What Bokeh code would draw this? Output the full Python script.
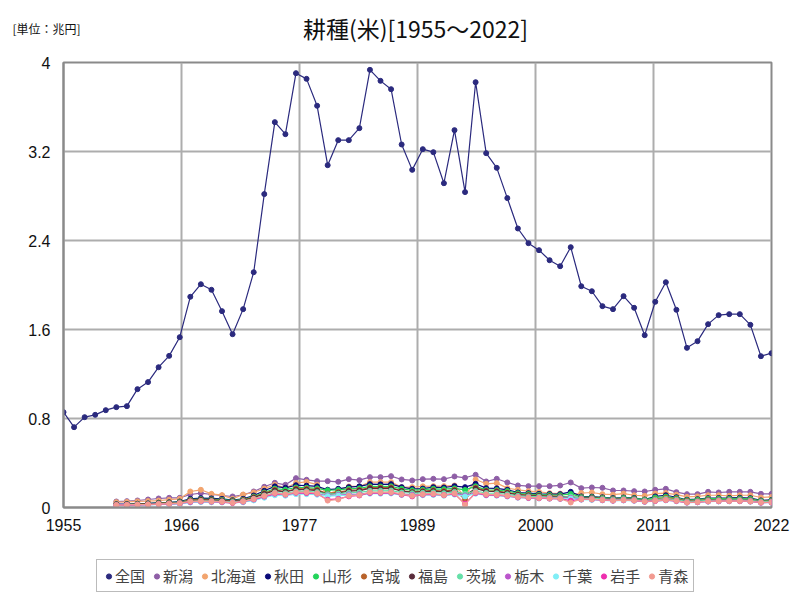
from bokeh.plotting import figure
from bokeh.models import Range1d, FixedTicker, Legend, LegendItem
from bokeh.layouts import column
from bokeh.core.properties import value
from bokeh.embed import file_html
from bokeh.resources import INLINE

title_text = "耕種(米)[1955～2022]"
unit_text = "[単位：兆円]"

years_all = list(range(1955, 2023))
years_pref = list(range(1960, 2023))

zenkoku = [0.857, 0.722, 0.812, 0.833, 0.875,
           0.902, 0.911, 1.064, 1.127, 1.261, 1.363, 1.531, 1.894, 2.007, 1.957,
           1.765, 1.558, 1.783, 2.115, 2.817, 3.464, 3.356, 3.904, 3.853, 3.611,
           3.077, 3.302, 3.302, 3.410, 3.934, 3.835, 3.760, 3.263, 3.035, 3.221,
           3.194, 2.915, 3.392, 2.835, 3.823, 3.185, 3.053, 2.781, 2.508, 2.376,
           2.313, 2.223, 2.169, 2.340, 1.989, 1.944, 1.810, 1.783, 1.900, 1.795,
           1.549, 1.849, 2.025, 1.777, 1.435, 1.495, 1.648, 1.729, 1.738, 1.738,
           1.642, 1.360, 1.387]

niigata = [0.054, 0.057, 0.063, 0.072, 0.081, 0.087, 0.087, 0.117, 0.129, 0.117,
           0.108, 0.099, 0.114, 0.144, 0.186, 0.222, 0.204, 0.264, 0.249, 0.237,
           0.237, 0.231, 0.255, 0.246, 0.273, 0.273, 0.282, 0.252, 0.243, 0.255,
           0.258, 0.255, 0.279, 0.267, 0.294, 0.234, 0.258, 0.225, 0.198, 0.192,
           0.192, 0.192, 0.198, 0.225, 0.174, 0.180, 0.177, 0.153, 0.153, 0.147,
           0.144, 0.159, 0.168, 0.138, 0.120, 0.120, 0.141, 0.135, 0.141, 0.141,
           0.141, 0.123, 0.123]

hokkaido = [0.048, 0.050, 0.055, 0.058, 0.062, 0.070, 0.078, 0.144, 0.159, 0.123,
            0.111, 0.078, 0.117, 0.135, 0.170, 0.205, 0.175, 0.220, 0.230, 0.205,
            0.123, 0.153, 0.189, 0.189, 0.228, 0.228, 0.228, 0.183, 0.183, 0.190,
            0.192, 0.192, 0.198, 0.100, 0.252, 0.213, 0.219, 0.174, 0.159, 0.147,
            0.140, 0.129, 0.125, 0.110, 0.130, 0.135, 0.120, 0.115, 0.125, 0.110,
            0.105, 0.125, 0.130, 0.115, 0.095, 0.100, 0.110, 0.110, 0.105, 0.110,
            0.110, 0.090, 0.095]

akita = [0.030, 0.031, 0.034, 0.037, 0.043, 0.047, 0.054, 0.078, 0.084, 0.082,
         0.078, 0.066, 0.078, 0.108, 0.150, 0.190, 0.177, 0.200, 0.196, 0.190,
         0.160, 0.168, 0.183, 0.190, 0.210, 0.208, 0.210, 0.183, 0.168, 0.170,
         0.183, 0.180, 0.192, 0.183, 0.213, 0.174, 0.172, 0.159, 0.135, 0.129,
         0.123, 0.121, 0.120, 0.141, 0.100, 0.098, 0.092, 0.085, 0.090, 0.086,
         0.072, 0.100, 0.110, 0.092, 0.070, 0.075, 0.084, 0.085, 0.086, 0.088,
         0.084, 0.064, 0.068]

yamagata = [0.027, 0.028, 0.031, 0.034, 0.039, 0.043, 0.049, 0.070, 0.075, 0.073,
            0.070, 0.062, 0.071, 0.098, 0.135, 0.170, 0.160, 0.180, 0.178, 0.172,
            0.155, 0.158, 0.168, 0.172, 0.190, 0.188, 0.190, 0.168, 0.155, 0.160,
            0.168, 0.165, 0.172, 0.158, 0.190, 0.158, 0.157, 0.148, 0.128, 0.121,
            0.115, 0.113, 0.110, 0.122, 0.095, 0.093, 0.088, 0.081, 0.086, 0.082,
            0.070, 0.090, 0.098, 0.085, 0.066, 0.070, 0.079, 0.080, 0.080, 0.082,
            0.078, 0.060, 0.064]

miyagi = [0.026, 0.027, 0.030, 0.033, 0.037, 0.041, 0.046, 0.066, 0.071, 0.068,
          0.065, 0.058, 0.068, 0.092, 0.128, 0.160, 0.140, 0.170, 0.168, 0.160,
          0.125, 0.138, 0.155, 0.158, 0.180, 0.178, 0.180, 0.150, 0.140, 0.148,
          0.155, 0.148, 0.160, 0.070, 0.178, 0.150, 0.148, 0.135, 0.118, 0.112,
          0.108, 0.104, 0.100, 0.085, 0.090, 0.088, 0.082, 0.076, 0.080, 0.076,
          0.064, 0.075, 0.088, 0.078, 0.060, 0.062, 0.071, 0.072, 0.073, 0.074,
          0.070, 0.055, 0.058]

fukushima = [0.025, 0.026, 0.029, 0.032, 0.036, 0.039, 0.044, 0.062, 0.067, 0.066,
             0.062, 0.055, 0.064, 0.088, 0.122, 0.152, 0.140, 0.162, 0.160, 0.152,
             0.118, 0.130, 0.148, 0.152, 0.172, 0.170, 0.172, 0.148, 0.136, 0.142,
             0.148, 0.140, 0.152, 0.110, 0.170, 0.146, 0.142, 0.130, 0.114, 0.108,
             0.104, 0.100, 0.097, 0.095, 0.088, 0.086, 0.080, 0.074, 0.078, 0.074,
             0.062, 0.065, 0.072, 0.070, 0.055, 0.058, 0.066, 0.068, 0.069, 0.070,
             0.066, 0.054, 0.056]

ibaraki = [0.023, 0.024, 0.027, 0.029, 0.033, 0.036, 0.041, 0.055, 0.060, 0.058,
           0.055, 0.050, 0.058, 0.078, 0.108, 0.135, 0.128, 0.145, 0.145, 0.138,
           0.120, 0.125, 0.132, 0.136, 0.150, 0.150, 0.152, 0.135, 0.128, 0.132,
           0.135, 0.128, 0.140, 0.122, 0.148, 0.130, 0.128, 0.118, 0.105, 0.100,
           0.097, 0.094, 0.092, 0.098, 0.084, 0.082, 0.077, 0.072, 0.076, 0.072,
           0.062, 0.070, 0.078, 0.070, 0.054, 0.057, 0.064, 0.066, 0.067, 0.068,
           0.064, 0.052, 0.055]

tochigi = [0.020, 0.021, 0.023, 0.025, 0.028, 0.031, 0.035, 0.048, 0.052, 0.050,
           0.048, 0.044, 0.050, 0.068, 0.094, 0.118, 0.112, 0.128, 0.128, 0.122,
           0.108, 0.112, 0.118, 0.120, 0.132, 0.132, 0.135, 0.120, 0.114, 0.118,
           0.120, 0.114, 0.124, 0.108, 0.132, 0.115, 0.114, 0.105, 0.094, 0.090,
           0.087, 0.085, 0.083, 0.086, 0.075, 0.073, 0.068, 0.064, 0.068, 0.064,
           0.054, 0.062, 0.068, 0.060, 0.046, 0.049, 0.055, 0.057, 0.058, 0.059,
           0.055, 0.044, 0.047]

chiba = [0.019, 0.020, 0.022, 0.024, 0.027, 0.030, 0.033, 0.045, 0.049, 0.047,
         0.045, 0.042, 0.047, 0.064, 0.088, 0.110, 0.106, 0.120, 0.120, 0.115,
         0.102, 0.106, 0.110, 0.112, 0.124, 0.124, 0.126, 0.112, 0.107, 0.110,
         0.112, 0.106, 0.116, 0.100, 0.124, 0.108, 0.106, 0.098, 0.088, 0.084,
         0.081, 0.079, 0.077, 0.080, 0.070, 0.068, 0.064, 0.060, 0.063, 0.060,
         0.050, 0.058, 0.064, 0.056, 0.043, 0.046, 0.052, 0.054, 0.055, 0.056,
         0.052, 0.042, 0.045]

iwate = [0.021, 0.022, 0.024, 0.026, 0.030, 0.033, 0.037, 0.050, 0.054, 0.052,
         0.049, 0.040, 0.052, 0.072, 0.098, 0.124, 0.115, 0.132, 0.130, 0.124,
         0.070, 0.078, 0.100, 0.108, 0.130, 0.130, 0.132, 0.115, 0.100, 0.115,
         0.118, 0.110, 0.122, 0.035, 0.130, 0.112, 0.110, 0.102, 0.090, 0.086,
         0.083, 0.080, 0.078, 0.062, 0.072, 0.072, 0.066, 0.061, 0.065, 0.062,
         0.052, 0.058, 0.066, 0.058, 0.044, 0.047, 0.054, 0.056, 0.057, 0.057,
         0.054, 0.043, 0.045]

aomori = [0.022, 0.023, 0.025, 0.027, 0.031, 0.034, 0.039, 0.055, 0.058, 0.055,
          0.052, 0.042, 0.055, 0.076, 0.104, 0.130, 0.118, 0.138, 0.138, 0.128,
          0.062, 0.072, 0.105, 0.112, 0.138, 0.136, 0.138, 0.120, 0.105, 0.120,
          0.124, 0.112, 0.128, 0.025, 0.136, 0.118, 0.115, 0.106, 0.094, 0.090,
          0.086, 0.083, 0.080, 0.045, 0.075, 0.074, 0.068, 0.063, 0.067, 0.064,
          0.054, 0.060, 0.068, 0.060, 0.046, 0.049, 0.056, 0.058, 0.058, 0.059,
          0.055, 0.045, 0.047]

names = ["全国", "新潟", "北海道", "秋田", "山形", "宮城", "福島", "茨城", "栃木", "千葉", "岩手", "青森"]
values = [zenkoku, niigata, hokkaido, akita, yamagata, miyagi, fukushima,
          ibaraki, tochigi, chiba, iwate, aomori]
colors = ["#2B2A7E", "#8E5EA6", "#F2A46E", "#0A0A78", "#22D45A", "#B8622A",
          "#5A2C3A", "#66E0A8", "#BB55CC", "#80EEF6", "#EE2EAE", "#F29A90"]

y_ticks = [0, 0.8, 1.6, 2.4, 3.2, 4]
y_labels = ["0", "0.8", "1.6", "2.4", "3.2", "4"]
x_labels = ["1955", "1966", "1977", "1989", "2000", "2011", "2022"]


def blank(h):
    f = figure(width=800, height=h, x_range=Range1d(0, 800), y_range=Range1d(h, 0),
               output_backend="svg", toolbar_location=None, x_axis_type=None, y_axis_type=None,
               min_border_left=0, min_border_right=0, min_border_top=0, min_border_bottom=0)
    f.outline_line_color = None
    f.grid.visible = False
    f.title.visible = False
    f.frame_align = False
    return f


HH, FH = 55, 55

# ---- header (title + unit) ----
head = blank(HH)
head.text(x=[12], y=[28], text=[unit_text], text_font=value("Noto Sans CJK JP"),
          text_font_size="12px", text_baseline="middle", text_align="left", text_color="#111111")
head.text(x=[415], y=[27], text=[title_text], text_font=value("Noto Sans CJK JP"),
          text_font_size="23px", text_baseline="middle", text_align="center", text_color="#111111")

# ---- main chart ----
X0, X1 = 1955, 2022
p = figure(width=800, height=600 - HH - FH, x_range=Range1d(X0, X1), y_range=Range1d(0, 4),
           output_backend="svg", toolbar_location=None,
           min_border_left=63, min_border_right=29, min_border_top=62 - HH,
           min_border_bottom=600 - FH - 507)
p.title.visible = False
p.outline_line_color = "#8A8A8A"
p.outline_line_width = 2

n = len(x_labels) - 1
x_ticks = [X0 + (X1 - X0) * i / n for i in range(n + 1)]
p.xaxis.ticker = FixedTicker(ticks=x_ticks)
p.xaxis.major_label_overrides = {t: l for t, l in zip(x_ticks, x_labels)}
p.yaxis.ticker = FixedTicker(ticks=y_ticks)
p.yaxis.major_label_overrides = {t: l for t, l in zip(y_ticks, y_labels)}

for ax in (p.xaxis, p.yaxis):
    ax.major_tick_line_color = None
    ax.minor_tick_line_color = None
    ax.axis_line_color = "#8A8A8A"
    ax.axis_line_width = 2
    ax.major_label_text_font = "Liberation Sans"
    ax.major_label_text_font_size = "16px"
    ax.major_label_text_color = "#111111"
p.xaxis.major_label_standoff = 5
p.yaxis.major_label_standoff = 7

for g in (p.xgrid, p.ygrid):
    g.grid_line_color = "#ADADAD"
    g.grid_line_width = 2

for i, (nm, vals, col) in enumerate(zip(names, values, colors)):
    xs = years_all if i == 0 else years_pref
    p.line(xs, vals, line_color=col, line_width=1.2)
    p.scatter(xs, vals, size=5, fill_color=col, line_color=col)

# ---- footer (legend); its renderers hold the same series, which fall outside this strip's range ----
foot = blank(FH)
items = []
for i, (nm, vals, col) in enumerate(zip(names, values, colors)):
    xs = years_all if i == 0 else years_pref
    r = foot.scatter(xs, vals, size=7, fill_color=col, line_color=col)
    items.append(LegendItem(label=nm, renderers=[r]))
legend = Legend(items=items, orientation="horizontal", location=(96, 8),
                label_text_font="Noto Sans CJK JP", label_text_font_size="15px",
                glyph_width=13, glyph_height=20, label_standoff=0, spacing=5,
                padding=5, margin=0, border_line_color="#777777", border_line_width=1.5,
                background_fill_color="white", background_fill_alpha=1.0,
                label_height=18)
foot.add_layout(legend, "center")

layout = column(head, p, foot, spacing=0)
open("out.html", "w").write(file_html(layout, INLINE))
